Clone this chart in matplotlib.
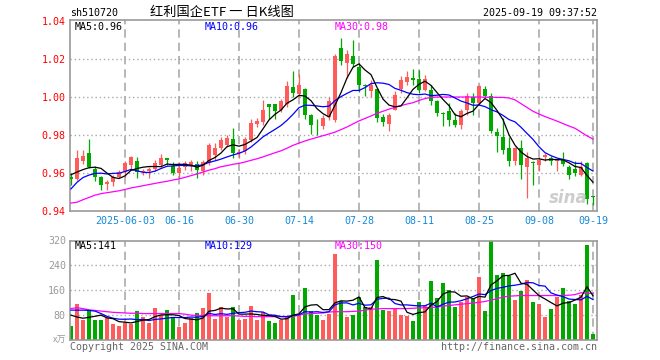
import matplotlib
matplotlib.use("Agg")
import matplotlib.pyplot as plt
import numpy as np
import pandas as pd

plt.rcParams['font.family'] = ['DejaVu Sans Mono', 'Noto Sans CJK SC']

# --- data -------------------------------------------------------------------
opens = [0.9580, 0.9567, 0.9660, 0.9703, 0.9619, 0.9577, 0.9542, 0.9549, 0.9577, 0.9602,
         0.9642, 0.9660, 0.9602, 0.9610, 0.9619, 0.9642, 0.9678, 0.9637, 0.9600, 0.9633,
         0.9642, 0.9648, 0.9607, 0.9651, 0.9695, 0.9730, 0.9748, 0.9778, 0.9703, 0.9717,
         0.9773, 0.9855, 0.9866, 0.9965, 0.9965, 0.9933, 0.9965, 1.0053, 1.0018, 1.0042,
         0.9907, 0.9847, 0.9846, 0.9895, 0.9881, 1.0258, 1.0179, 1.0218, 1.0158, 1.0063,
         1.0030, 1.0042, 0.9895, 0.9860, 0.9933, 1.0042, 1.0077, 1.0100, 1.0095, 1.0039,
         1.0039, 0.9977, 0.9916, 0.9925, 0.9877, 0.9854, 0.9933, 1.0000, 0.9968, 1.0042,
         1.0004, 0.9814, 0.9790, 0.9730, 0.9660, 0.9730, 0.9633, 0.9656, 0.9642, 0.9682,
         0.9677, 0.9660, 0.9668, 0.9633, 0.9619, 0.9590, 0.9651, 0.9474]
highs = [0.9600, 0.9720, 0.9721, 0.9777, 0.9637, 0.9585, 0.9563, 0.9590, 0.9616, 0.9660,
         0.9690, 0.9686, 0.9620, 0.9630, 0.9665, 0.9700, 0.9678, 0.9655, 0.9655, 0.9660,
         0.9665, 0.9660, 0.9669, 0.9757, 0.9757, 0.9790, 0.9800, 0.9836, 0.9725, 0.9790,
         0.9884, 0.9890, 0.9984, 0.9965, 0.9965, 0.9990, 1.0082, 1.0140, 1.0123, 1.0050,
         0.9910, 0.9886, 0.9907, 1.0000, 1.0225, 1.0310, 1.0250, 1.0300, 1.0180, 1.0068,
         1.0090, 1.0050, 0.9910, 0.9915, 1.0030, 1.0110, 1.0135, 1.0147, 1.0144, 1.0118,
         1.0065, 0.9985, 0.9920, 0.9968, 0.9916, 0.9937, 1.0020, 1.0020, 1.0065, 1.0056,
         1.0020, 0.9837, 0.9890, 0.9790, 0.9737, 0.9774, 0.9712, 0.9660, 0.9686, 0.9703,
         0.9690, 0.9675, 0.9712, 0.9640, 0.9660, 0.9660, 0.9655, 0.9480]
lows = [0.9537, 0.9560, 0.9648, 0.9625, 0.9558, 0.9507, 0.9507, 0.9531, 0.9570, 0.9580,
        0.9620, 0.9572, 0.9590, 0.9570, 0.9610, 0.9630, 0.9642, 0.9590, 0.9570, 0.9615,
        0.9610, 0.9570, 0.9590, 0.9640, 0.9670, 0.9720, 0.9735, 0.9678, 0.9680, 0.9700,
        0.9760, 0.9840, 0.9850, 0.9884, 0.9884, 0.9920, 0.9950, 1.0000, 1.0000, 0.9884,
        0.9807, 0.9797, 0.9830, 0.9880, 0.9870, 1.0170, 1.0100, 1.0160, 1.0025, 1.0004,
        1.0000, 0.9870, 0.9846, 0.9820, 0.9930, 1.0020, 1.0065, 1.0065, 1.0020, 1.0030,
        0.9960, 0.9900, 0.9846, 0.9846, 0.9840, 0.9832, 0.9907, 0.9907, 0.9960, 1.0000,
        0.9810, 0.9710, 0.9700, 0.9637, 0.9640, 0.9567, 0.9467, 0.9537, 0.9607, 0.9660,
        0.9642, 0.9607, 0.9637, 0.9567, 0.9582, 0.9585, 0.9435, 0.9431]
closes = [0.9568, 0.9677, 0.9690, 0.9633, 0.9580, 0.9537, 0.9553, 0.9577, 0.9602, 0.9651,
          0.9681, 0.9602, 0.9612, 0.9620, 0.9651, 0.9678, 0.9669, 0.9600, 0.9625, 0.9651,
          0.9656, 0.9616, 0.9655, 0.9748, 0.9730, 0.9774, 0.9783, 0.9704, 0.9712, 0.9776,
          0.9864, 0.9876, 0.9932, 0.9947, 0.9925, 0.9977, 1.0056, 1.0021, 1.0065, 0.9907,
          0.9854, 0.9845, 0.9890, 0.9977, 1.0218, 1.0188, 1.0228, 1.0175, 1.0065, 1.0058,
          1.0065, 0.9890, 0.9867, 0.9907, 1.0012, 1.0088, 1.0105, 1.0091, 1.0039, 1.0095,
          0.9977, 0.9916, 0.9908, 0.9877, 0.9854, 0.9925, 1.0004, 0.9968, 1.0056, 1.0007,
          0.9819, 0.9796, 0.9723, 0.9660, 0.9730, 0.9642, 0.9677, 0.9654, 0.9668, 0.9695,
          0.9660, 0.9672, 0.9647, 0.9590, 0.9598, 0.9633, 0.9460, 0.9471]
volumes = [45, 115, 64, 93, 64, 64, 71, 51, 45, 55,
           53, 93, 73, 55, 102, 80, 96, 73, 42, 54,
           70, 86, 102, 151, 67, 106, 73, 106, 64, 67,
           109, 65, 91, 61, 54, 64, 73, 145, 85, 166,
           93, 79, 65, 85, 275, 126, 74, 80, 137, 105,
           105, 256, 96, 93, 100, 80, 77, 61, 122, 112,
           189, 134, 182, 160, 106, 122, 139, 133, 202, 93,
           317, 208, 214, 206, 128, 157, 192, 122, 115, 74,
           99, 138, 166, 125, 115, 144, 307, 19]

# moving averages: first points (window not yet full)
ma5_head = [0.9590, 0.9604, 0.9617, 0.9627]
ma10_head = [0.9515, 0.9550, 0.9575, 0.9588, 0.9597, 0.9598, 0.9594, 0.9597, 0.9598]
ma30 = [0.9440, 0.9445, 0.9458, 0.9470, 0.9482, 0.9490, 0.9495, 0.9500, 0.9505, 0.9512,
        0.9520, 0.9526, 0.9532, 0.9538, 0.9544, 0.9550, 0.9555, 0.9562, 0.9568, 0.9576,
        0.9585, 0.9594, 0.9604, 0.9614, 0.9622, 0.9632, 0.9638, 0.9645, 0.9650, 0.9657,
        0.9666, 0.9674, 0.9684, 0.9695, 0.9706, 0.9716, 0.9730, 0.9745, 0.9757, 0.9768,
        0.9778, 0.9787, 0.9796, 0.9805, 0.9815, 0.9828, 0.9842, 0.9858, 0.9874, 0.9887,
        0.9900, 0.9914, 0.9925, 0.9936, 0.9946, 0.9955, 0.9963, 0.9970, 0.9982, 0.9992,
        0.9998, 1.0000, 1.0000, 1.0000, 1.0000, 1.0000, 1.0000, 1.0000, 1.0000, 0.9999,
        0.9999, 0.9998, 0.9998, 0.9995, 0.9985, 0.9965, 0.9945, 0.9925, 0.9910, 0.9897,
        0.9885, 0.9873, 0.9860, 0.9847, 0.9835, 0.9815, 0.9795, 0.9778]
vma5_head = [80, 74, 70, 73]
vma10_head = [96, 96, 96, 95, 93, 85, 76, 70, 67]
vma30 = [101, 104, 101, 97, 95, 93, 91, 89, 88, 87,
         86, 86, 85, 85, 85, 85, 85, 85, 85, 83,
         80, 79, 78, 78, 78, 78, 78, 78, 77, 76,
         76, 75, 75, 75, 75, 75, 75, 76, 80, 84,
         85, 86, 87, 90, 91, 91, 91, 92, 93, 96,
         99, 100, 101, 101, 101, 101, 101, 102, 103, 104,
         104, 106, 109, 111, 113, 115, 117, 119, 121, 124,
         128, 133, 138, 141, 142, 143, 143, 143, 143, 143,
         143, 143, 143, 144, 146, 152, 150, 150]

tick_idx = [9, 18, 28, 38, 48, 58, 68, 78, 87]
tick_labels = ["2025-06-03", "06-16", "06-30", "07-14", "07-28", "08-11", "08-25", "09-08", "09-19"]
price_ticks = [0.94, 0.96, 0.98, 1.00, 1.02, 1.04]
vol_ticks = [80, 160, 240, 320]
# --------------------------------------------------------------------------

RED, GREEN = "#ff5b5b", "#00a800"
GRID = "#aaaaaa"
W, H = 660, 360

df = pd.DataFrame({"open": opens, "high": highs, "low": lows, "close": closes, "vol": volumes})
x = np.arange(len(df))
up = df.close >= df.open
colors = np.where(up, RED, GREEN)

ma5 = df.close.rolling(5).mean().to_numpy()
ma5[:4] = ma5_head
ma10 = df.close.rolling(10).mean().to_numpy()
ma10[:9] = ma10_head
vma5 = df.vol.rolling(5).mean().to_numpy()
vma5[:4] = vma5_head
vma10 = df.vol.rolling(10).mean().to_numpy()
vma10[:9] = vma10_head


def px(xp, yp):
    return xp / W, 1 - yp / H


fig = plt.figure(figsize=(6.6, 3.6), dpi=100)
ax_p = fig.add_axes([70 / W, 1 - 210.7 / H, 527 / W, 190.4 / H])
ax_v = fig.add_axes([70 / W, 1 - 340 / H, 527 / W, 99.5 / H])

xmin = -1.0 / 6
xmax = xmin + 527 / 6

for ax in (ax_p, ax_v):
    ax.set_xlim(xmin, xmax)
    for s in ax.spines.values():
        s.set_color("#999999")
        s.set_linewidth(1.2)
    for t in tick_idx:
        ax.axvline(t, color=GRID, lw=1.2, ls=(0, (5, 3)), zorder=0)
    ax.tick_params(length=0)

# price panel
for p in price_ticks[1:-1]:
    ax_p.axhline(p, color=GRID, lw=1, ls=(0, (1, 2)), zorder=0)
ax_p.vlines(x, df.low, df.high, colors=colors, lw=0.9, zorder=2)
body = (df.close - df.open).abs().clip(lower=0.0004)
ax_p.bar(x, body, bottom=np.minimum(df.open, df.close), width=0.7, color=colors, zorder=3)
ax_p.plot(x, ma30, color="#ff00ff", lw=0.9, zorder=4)
ax_p.plot(x, ma10, color="#0000ff", lw=0.9, zorder=4)
ax_p.plot(x, ma5, color="black", lw=0.9, zorder=5)
ax_p.set_ylim(0.94, 1.0405)
ax_p.set_yticks(price_ticks)
ax_p.set_yticklabels([f"{p:.2f}" for p in price_ticks], color="red", fontsize=7.2)
ax_p.tick_params(axis="y", pad=3)
ax_p.set_xticks(tick_idx)
ax_p.set_xticklabels(tick_labels, color="#1589d8", fontsize=7.2)
ax_p.tick_params(axis="x", pad=3.5)

# volume panel
for v in vol_ticks[:-1]:
    ax_v.axhline(v, color=GRID, lw=1, ls=(0, (1, 2)), zorder=0)
ax_v.bar(x, df.vol, width=0.82, color=colors, zorder=2)
ax_v.plot(x, vma30, color="#ff00ff", lw=0.9, zorder=3)
ax_v.plot(x, vma10, color="#0000ff", lw=0.9, zorder=3)
ax_v.plot(x, vma5, color="black", lw=0.9, zorder=4)
ax_v.set_ylim(0, 320)
ax_v.set_yticks(vol_ticks)
ax_v.set_yticklabels([str(v) for v in vol_ticks], color="#999999", fontsize=7.2)
ax_v.tick_params(axis="y", pad=3)
ax_v.set_xticks([])

# texts
mono = dict(fontsize=7.2, va="center")
fig.text(*px(70, 13), "sh510720", ha="left", color="black", **mono)
fig.text(*px(150, 12.5), "红利国企ETF 一 日K线图", ha="left", va="center", fontsize=9.5,
         family=["Noto Sans CJK SC", "DejaVu Sans"])
fig.text(*px(597, 13), "2025-09-19 09:37:52", ha="right", color="black", **mono)

fig.text(*px(75, 27), "MA5:0.96", ha="left", color="black", **mono)
fig.text(*px(205, 27), "MA10:0.96", ha="left", color="#0000ff", **mono)
fig.text(*px(335, 27), "MA30:0.98", ha="left", color="#ff00ff", **mono)
fig.text(*px(75, 246), "MA5:141", ha="left", color="black", **mono)
fig.text(*px(205, 246), "MA10:129", ha="left", color="#0000ff", **mono)
fig.text(*px(335, 246), "MA30:150", ha="left", color="#ff00ff", **mono)

fig.text(*px(66, 340), "x万", ha="right", va="center", fontsize=6.5, color="#999999",
         family=["Noto Sans CJK SC", "DejaVu Sans"])
fig.text(*px(70, 347), "Copyright 2025 SINA.COM", ha="left", color="#666666", **mono)
fig.text(*px(597, 347), "http://finance.sina.com.cn", ha="right", color="#666666", **mono)

fig.text(*px(568, 198), "sina", ha="center", va="center", fontsize=12, fontweight="bold",
         style="italic", color="#c8c8c8", family="DejaVu Sans", alpha=0.9)

fig.savefig("out.png", dpi=100)
